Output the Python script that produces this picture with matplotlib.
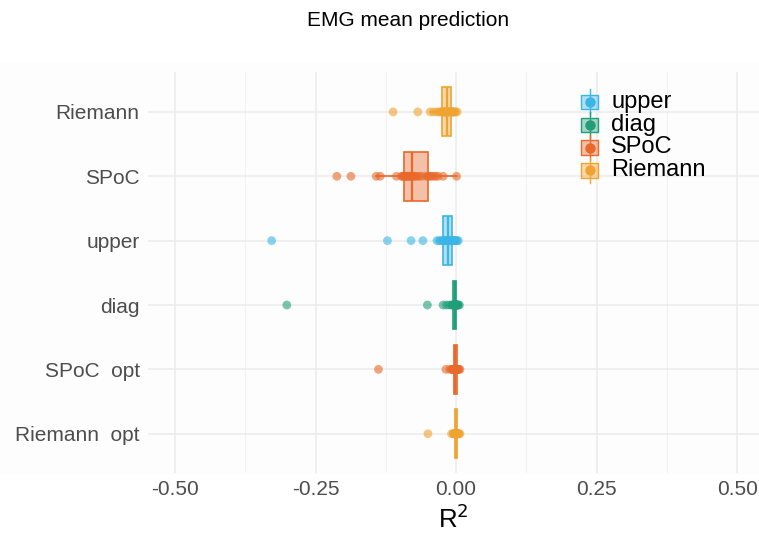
import matplotlib.pyplot as plt
import numpy as np
from matplotlib.colors import to_rgba
from matplotlib.legend_handler import HandlerBase
from matplotlib.lines import Line2D
from matplotlib.patches import Rectangle

plt.rcParams['font.family'] = ['Liberation Sans', 'DejaVu Sans']

# R^2 scores per model (one value per fold)
rows = ['Riemann', 'SPoC', 'upper', 'diag', 'SPoC  opt', 'Riemann  opt']
row_family = ['Riemann', 'SPoC', 'upper', 'diag', 'SPoC', 'Riemann']

riemann = [-0.112, -0.068, -0.046, -0.040, -0.034, -0.030, -0.027, -0.025, -0.023, -0.022,
           -0.021, -0.020, -0.019, -0.018, -0.017, -0.016, -0.015, -0.014, -0.013, -0.012,
           -0.011, -0.010, -0.008, -0.007, -0.006, -0.005, -0.004, -0.003, -0.001, 0.002]
spoc = [-0.212, -0.187, -0.142, -0.135, -0.106, -0.097, -0.095, -0.093, -0.091, -0.090,
        -0.088, -0.086, -0.084, -0.082, -0.080, -0.078, -0.076, -0.073, -0.070, -0.066,
        -0.061, -0.053, -0.050, -0.047, -0.044, -0.040, -0.036, -0.032, -0.023, 0.001]
upper = [-0.328, -0.122, -0.080, -0.059, -0.034, -0.030, -0.027, -0.024, -0.022, -0.021,
         -0.020, -0.018, -0.017, -0.016, -0.015, -0.014, -0.013, -0.012, -0.011, -0.010,
         -0.009, -0.008, -0.006, -0.005, -0.004, -0.003, -0.002, 0.000, 0.002, 0.004]
diag = [-0.301, -0.051, -0.023, -0.017, -0.012, -0.008, -0.006, -0.005, -0.004, -0.003,
        -0.003, -0.002, -0.002, -0.002, -0.001, -0.001, -0.001, -0.001, 0.000, 0.000,
        0.000, 0.000, 0.001, 0.001, 0.001, 0.002, 0.002, 0.003, 0.004, 0.006]
spoc_opt = [-0.138, -0.018, -0.011, -0.008, -0.006, -0.005, -0.004, -0.003, -0.003, -0.002,
            -0.002, -0.002, -0.001, -0.001, -0.001, -0.001, 0.000, 0.000, 0.000, 0.000,
            0.000, 0.001, 0.001, 0.001, 0.002, 0.002, 0.003, 0.004, 0.005, 0.007]
riemann_opt = [-0.050, -0.008, -0.005, -0.004, -0.003, -0.002, -0.002, -0.001, -0.001, -0.001,
               -0.001, 0.000, 0.000, 0.000, 0.000, 0.000, 0.000, 0.001, 0.001, 0.001,
               0.001, 0.001, 0.002, 0.002, 0.002, 0.003, 0.003, 0.004, 0.005, 0.007]
scores = [riemann, spoc, upper, diag, spoc_opt, riemann_opt]

legend_order = ['upper', 'diag', 'SPoC', 'Riemann']
colors = {'upper': '#3BB5E6', 'diag': '#1F9E77', 'SPoC': '#E8692A', 'Riemann': '#F0A330'}

xticks = [-0.5, -0.25, 0.0, 0.25, 0.5]
xtick_labels = ['-0.50', '-0.25', '0.00', '0.25', '0.50']
bg = '#fdfdfd'

fig = plt.figure(figsize=(7.59, 5.35), dpi=100)
fig.patches.append(Rectangle((0, 60 / 535), 1, 412 / 535, transform=fig.transFigure,
                             facecolor=bg, edgecolor='none', zorder=-10))
ax = fig.add_axes([148 / 759, 62 / 535, 611 / 759, 401 / 535])
ax.set_facecolor(bg)

pos = np.arange(1, len(rows) + 1)
for p, vals, fam in zip(pos, scores, row_family):
    c = colors[fam]
    bp = ax.boxplot(vals, positions=[p], orientation='horizontal', widths=0.76,
                    patch_artist=True, showfliers=False, showcaps=False, whis=1.5)
    for b in bp['boxes']:
        b.set_facecolor(to_rgba(c, 0.4))
        b.set_edgecolor(c)
        b.set_linewidth(1.2)
    for w in bp['whiskers']:
        w.set_color(c)
        w.set_linewidth(1.2)
    for m in bp['medians']:
        m.set_color(c)
        m.set_linewidth(1.6)
    ax.scatter(vals, np.full(len(vals), p), s=40, color=c, alpha=0.6,
               edgecolors='none', zorder=3)

ax.set_xlim(-0.548, 0.539)
ax.set_ylim(6.61, 0.38)
ax.set_yticks(pos)
ax.set_yticklabels(rows)
ax.set_xticks(xticks)
ax.set_xticklabels(xtick_labels)
ax.set_xticks([-0.375, -0.125, 0.125, 0.375], minor=True)
ax.tick_params(axis='both', which='both', length=0, labelsize=15, labelcolor='#4d4d4d')
ax.tick_params(axis='x', pad=5)
ax.tick_params(axis='y', pad=6)
ax.grid(True, which='major', color='#ebebeb', linewidth=1.1)
ax.grid(True, which='minor', axis='x', color='#f2f2f2', linewidth=0.8)
ax.set_axisbelow(True)
for s in ax.spines.values():
    s.set_visible(False)
ax.set_xlabel('R$^2$', fontsize=18.5, labelpad=4)

fig.text(408 / 759, 1 - 20 / 535, 'EMG mean prediction', ha='center', va='center', fontsize=15)


class BoxKey(HandlerBase):
    def create_artists(self, legend, orig, xd, yd, w, h, fs, trans):
        c = orig.get_color()
        cx, cy = xd + w / 2, yd + h / 2
        vline = Line2D([cx, cx], [yd - 0.4 * h, yd + 1.4 * h], color=c, lw=1.0, transform=trans)
        rect = Rectangle((xd, yd), w, h, facecolor=to_rgba(c, 0.4), edgecolor=c,
                         lw=1.0, transform=trans)
        dot = Line2D([cx], [cy], marker='o', markersize=6.5, color=c, linestyle='',
                     transform=trans)
        return [vline, rect, dot]


handles = [Line2D([], [], color=colors[k]) for k in legend_order]
ax.legend(handles, legend_order, handler_map={Line2D: BoxKey()}, loc='upper left',
          bbox_to_anchor=(0.69, 0.9825), frameon=False, fontsize=17, borderpad=0,
          handlelength=0.72, handleheight=0.55, handletextpad=0.55, labelspacing=0.035)

fig.savefig('out.png', dpi=100, facecolor='white')
